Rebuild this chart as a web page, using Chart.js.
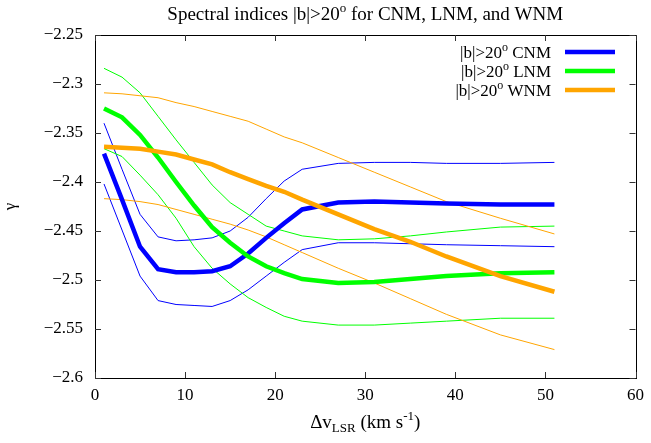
<!DOCTYPE html>
<html>
<head>
<meta charset="utf-8">
<script src="https://cdn.jsdelivr.net/npm/chart.js@4.4.1/dist/chart.umd.min.js"></script>
<style>
  html, body { margin: 0; padding: 0; background: #fff; }
  canvas { display: block; }
</style>
</head>
<body>
<canvas id="chart" width="651" height="443"></canvas>
<script>
// velocity window (km/s)
const dv = [1, 3, 5, 7, 9, 11, 13, 15, 17, 19, 21, 23, 27, 31, 35, 39, 45, 51];

// spectral index: mean, upper and lower envelope per phase
const cnm   = [-2.371, -2.418, -2.466, -2.489, -2.492, -2.492, -2.491, -2.486, -2.473, -2.457, -2.442, -2.428, -2.421, -2.420, -2.421, -2.422, -2.423, -2.423];
const cnmHi = [-2.340, -2.387, -2.433, -2.456, -2.460, -2.459, -2.457, -2.450, -2.436, -2.417, -2.399, -2.387, -2.381, -2.380, -2.380, -2.381, -2.381, -2.380];
const cnmLo = [-2.402, -2.449, -2.496, -2.521, -2.525, -2.526, -2.527, -2.521, -2.510, -2.496, -2.482, -2.469, -2.462, -2.462, -2.463, -2.464, -2.465, -2.466];

const lnm   = [-2.325, -2.334, -2.352, -2.375, -2.400, -2.424, -2.446, -2.462, -2.476, -2.486, -2.493, -2.499, -2.503, -2.502, -2.499, -2.496, -2.493, -2.492];
const lnmHi = [-2.284, -2.293, -2.309, -2.333, -2.357, -2.380, -2.403, -2.421, -2.433, -2.445, -2.450, -2.455, -2.459, -2.458, -2.455, -2.451, -2.446, -2.445];
const lnmLo = [-2.366, -2.374, -2.393, -2.413, -2.437, -2.466, -2.488, -2.504, -2.518, -2.528, -2.537, -2.542, -2.546, -2.546, -2.544, -2.542, -2.539, -2.539];

const wnm   = [-2.364, -2.365, -2.366, -2.369, -2.372, -2.377, -2.382, -2.390, -2.397, -2.404, -2.410, -2.418, -2.433, -2.448, -2.461, -2.476, -2.496, -2.512];
const wnmHi = [-2.309, -2.310, -2.312, -2.314, -2.319, -2.323, -2.328, -2.333, -2.338, -2.346, -2.354, -2.360, -2.375, -2.390, -2.405, -2.420, -2.437, -2.453];
const wnmLo = [-2.417, -2.418, -2.420, -2.423, -2.428, -2.433, -2.438, -2.443, -2.449, -2.456, -2.464, -2.472, -2.488, -2.503, -2.519, -2.535, -2.556, -2.571];

const xTicks = [0, 10, 20, 30, 40, 50, 60];
const yTicks = [-2.6, -2.55, -2.5, -2.45, -2.4, -2.35, -2.3, -2.25];

const phases = ['CNM', 'LNM', 'WNM'];
const colors = { CNM: '#0000ff', LNM: '#00ff00', WNM: '#ffa500' };

const SERIF = '"Liberation Serif", "Times New Roman", serif';
const FS = 17;

const pts = ys => dv.map((x, i) => ({ x, y: ys[i] }));
const line = (ys, color, width) => ({
  data: pts(ys), borderColor: color, backgroundColor: color,
  borderWidth: width, showLine: true, pointRadius: 0, tension: 0, fill: false
});

// first dataset is painted last, so the thick means go first
const datasets = [
  line(wnm, colors.WNM, 4.5),
  line(lnm, colors.LNM, 4.5),
  line(cnm, colors.CNM, 4.5),
  line(wnmHi, colors.WNM, 1), line(wnmLo, colors.WNM, 1),
  line(lnmHi, colors.LNM, 1), line(lnmLo, colors.LNM, 1),
  line(cnmHi, colors.CNM, 1), line(cnmLo, colors.CNM, 1)
];

// text made of runs with optional sub/superscripts
function richText(ctx, parts, x, y, align, size) {
  const base = size || FS;
  let total = 0;
  for (const p of parts) {
    ctx.font = `${p.small ? Math.round(base * 0.7) : base}px ${SERIF}`;
    p.w = ctx.measureText(p.t).width;
    total += p.w;
  }
  let cx = align === 'center' ? x - total / 2 : align === 'right' ? x - total : x;
  ctx.textAlign = 'left';
  ctx.textBaseline = 'alphabetic';
  ctx.fillStyle = '#000';
  for (const p of parts) {
    ctx.font = `${p.small ? Math.round(base * 0.7) : base}px ${SERIF}`;
    ctx.fillText(p.t, cx, y + (p.dy || 0) * base / FS);
    cx += p.w;
  }
}
const sup = t => ({ t, small: true, dy: -7 });
const sub = t => ({ t, small: true, dy: 4 });

const framePlugin = {
  id: 'frame',
  afterDraw(chart) {
    const { ctx, chartArea: a, scales } = chart;
    ctx.save();
    // box and inward ticks on all four sides
    ctx.strokeStyle = '#000';
    ctx.lineWidth = 1;
    ctx.strokeRect(Math.round(a.left) + 0.5, Math.round(a.top) + 0.5,
                   Math.round(a.right - a.left), Math.round(a.bottom - a.top));
    ctx.strokeStyle = '#333';
    ctx.beginPath();
    for (const v of xTicks) {
      const px = Math.round(scales.x.getPixelForValue(v)) + 0.5;
      ctx.moveTo(px, a.bottom); ctx.lineTo(px, a.bottom - 6);
      ctx.moveTo(px, a.top); ctx.lineTo(px, a.top + 6);
    }
    for (const v of yTicks) {
      const py = Math.round(scales.y.getPixelForValue(v)) + 0.5;
      ctx.moveTo(a.left, py); ctx.lineTo(a.left + 6, py);
      ctx.moveTo(a.right, py); ctx.lineTo(a.right - 6, py);
    }
    ctx.stroke();

    const mid = (a.left + a.right) / 2;
    richText(ctx, [{ t: 'Spectral indices |b|>20' }, sup('o'), { t: ' for CNM, LNM, and WNM' }], mid, 20, 'center', 19);
    richText(ctx, [{ t: 'Δv' }, sub('LSR'), { t: ' (km s' }, sup('-1'), { t: ')' }], mid, 428, 'center', 19);

    // legend, text right aligned against the sample lines
    const rows = [52, 71, 90];
    phases.forEach((ph, i) => {
      richText(ctx, [{ t: '|b|>20' }, sup('o'), { t: ' ' + ph }], 551, rows[i] + 5.5, 'right');
      ctx.strokeStyle = colors[ph];
      ctx.lineWidth = 4.5;
      ctx.beginPath();
      ctx.moveTo(565, rows[i]); ctx.lineTo(615, rows[i]);
      ctx.stroke();
    });
    ctx.restore();
  }
};

new Chart(document.getElementById('chart'), {
  type: 'scatter',
  data: { datasets },
  options: {
    responsive: false,
    devicePixelRatio: 1,
    animation: false,
    layout: { padding: { top: 35, right: 14, left: 0, bottom: 0 } },
    plugins: { legend: { display: false }, tooltip: { enabled: false } },
    scales: {
      x: {
        type: 'linear', min: 0, max: 60,
        grid: { display: false, drawTicks: false },
        border: { display: false },
        afterBuildTicks: s => { s.ticks = xTicks.map(value => ({ value })); },
        afterFit: s => { s.height = 65; },
        ticks: { color: '#000', padding: 7, font: { family: SERIF, size: FS } }
      },
      y: {
        type: 'linear', min: -2.6, max: -2.25,
        grid: { display: false, drawTicks: false },
        border: { display: false },
        afterBuildTicks: s => { s.ticks = yTicks.map(value => ({ value })); },
        afterFit: s => { s.width = 95; },
        ticks: {
          color: '#000', padding: 12, font: { family: SERIF, size: FS },
          callback: v => String(Number(v.toFixed(2))).replace('-', '\u2212')
        },
        title: { display: true, text: 'γ', color: '#000', font: { family: SERIF, size: FS }, padding: 0 }
      }
    }
  },
  plugins: [framePlugin]
});
</script>
</body>
</html>
